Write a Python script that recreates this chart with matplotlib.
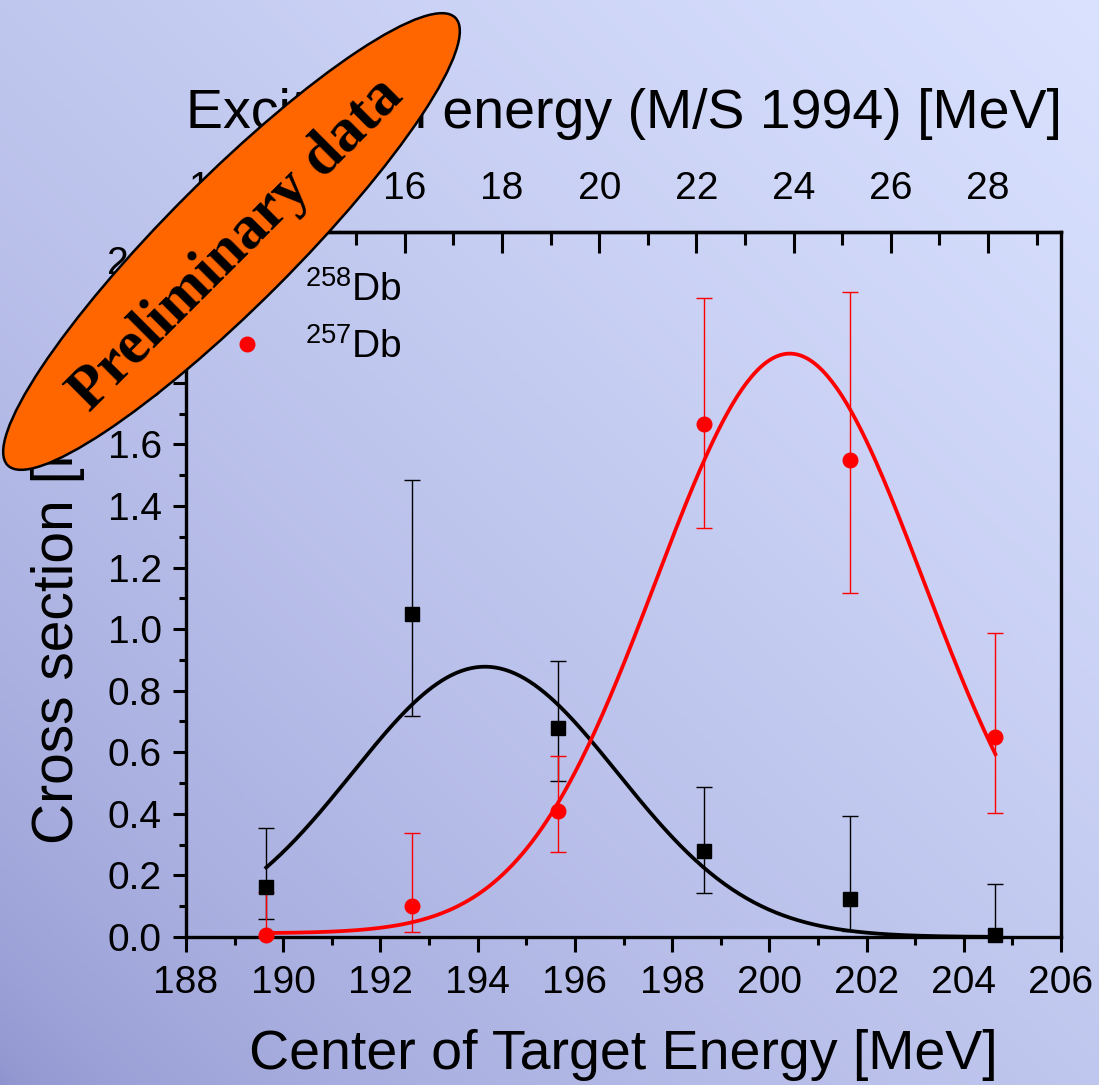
import numpy as np
import matplotlib
matplotlib.use("Agg")
import matplotlib.pyplot as plt
from matplotlib.patches import Ellipse
from matplotlib.lines import Line2D
from matplotlib.ticker import MultipleLocator, FormatStrFormatter

plt.rcParams['font.family'] = ['Liberation Sans', 'DejaVu Sans']
plt.rcParams['mathtext.fontset'] = 'custom'
plt.rcParams['mathtext.rm'] = 'Liberation Sans'
plt.rcParams['mathtext.default'] = 'regular'

# 258Db : energia, seccion eficaz y limites de error
e258 = [189.65, 192.65, 195.65, 198.65, 201.65, 204.65]
s258 = [0.163, 1.049, 0.680, 0.280, 0.122, 0.005]
s258_lo = [0.058, 0.717, 0.506, 0.142, 0.020, 0.0]
s258_hi = [0.353, 1.483, 0.898, 0.487, 0.394, 0.172]

# 257Db
e257 = [189.65, 192.65, 195.65, 198.65, 201.65, 204.65]
s257 = [0.006, 0.101, 0.409, 1.667, 1.548, 0.649]
s257_lo = [0.0, 0.015, 0.275, 1.328, 1.117, 0.404]
s257_hi = [0.147, 0.339, 0.588, 2.075, 2.095, 0.988]

# ajustes gaussianos (y0, A, xc, sigma)
fit258 = (0.0, 0.878, 194.15, 2.73)
fit257 = (0.012, 1.883, 200.42, 2.76)
fit_rango = (189.65, 204.65)

# energia de excitacion = energia - desplazamiento
offset_exc = 176.5
ticks_exc = [12, 14, 16, 18, 20, 22, 24, 26, 28]

W, H = 1099, 1085
fig = plt.figure(figsize=(W / 100, H / 100), dpi=100)

# fondo degradado
bg = fig.add_axes([0, 0, 1, 1], zorder=-10)
xx, yy = np.meshgrid(np.linspace(0, 1, 400), np.linspace(0, 1, 400))
t = ((xx + (1 - yy)) / 2) ** 0.6
dark = np.array([142, 147, 206]) / 255
light = np.array([218, 226, 255]) / 255
img = dark + (light - dark) * t[..., None]
bg.imshow(img, extent=[0, 1, 0, 1], origin='upper', aspect='auto')
bg.axis('off')

ax = fig.add_axes([186 / W, 1 - 937 / H, 875 / W, 705 / H])
ax.set_facecolor('none')


def gauss(p, x):
    y0, A, xc, s = p
    return y0 + A * np.exp(-(x - xc) ** 2 / (2 * s ** 2))


xf = np.linspace(fit_rango[0], fit_rango[1], 300)
ax.plot(xf, gauss(fit258, xf), color='black', lw=2.7, zorder=3)
ax.plot(xf, gauss(fit257, xf), color='red', lw=2.7, zorder=3)

err258 = [np.array(s258) - np.array(s258_lo), np.array(s258_hi) - np.array(s258)]
err257 = [np.array(s257) - np.array(s257_lo), np.array(s257_hi) - np.array(s257)]
ax.errorbar(e258, s258, yerr=err258, fmt='s', color='black', ms=10.5,
            elinewidth=1.0, capsize=5.5, capthick=1.0, zorder=4, clip_on=False)
ax.errorbar(e257, s257, yerr=err257, fmt='o', color='red', ms=10.5,
            elinewidth=1.0, capsize=5.5, capthick=1.0, zorder=4, clip_on=False)

ax.set_xlim(188, 206)
ax.set_ylim(0, 2.29)
ax.xaxis.set_major_locator(MultipleLocator(2))
ax.xaxis.set_minor_locator(MultipleLocator(1))
ax.yaxis.set_major_locator(MultipleLocator(0.2))
ax.yaxis.set_minor_locator(MultipleLocator(0.1))
ax.yaxis.set_major_formatter(FormatStrFormatter('%.1f'))

for sp in ax.spines.values():
    sp.set_linewidth(2.4)
ax.tick_params(axis='x', which='both', direction='out', top=False, bottom=True,
               labelsize=28, width=2.2, pad=9)
ax.tick_params(axis='x', which='major', length=11)
ax.tick_params(axis='x', which='minor', length=6)
ax.tick_params(axis='y', which='both', direction='out', right=False, left=True,
               labelsize=28, width=2.2, pad=8)
ax.tick_params(axis='y', which='major', length=9.5)
ax.tick_params(axis='y', which='minor', length=5)

ax.set_xlabel('Center of Target Energy [MeV]', fontsize=40, labelpad=20)
ax.set_ylabel('Cross section [nb]', fontsize=41, labelpad=16)
ax.yaxis.label.set_y(0.455)

sec = ax.secondary_xaxis('top', functions=(lambda x: x - offset_exc,
                                            lambda e: e + offset_exc))
sec.set_xticks(ticks_exc)
sec.xaxis.set_minor_locator(MultipleLocator(1))
sec.spines['top'].set_linewidth(2.4)
sec.tick_params(axis='x', which='both', direction='in', labelsize=28, width=2.2, pad=18)
sec.tick_params(axis='x', which='major', length=15)
sec.tick_params(axis='x', which='minor', length=9)
sec.set_xlabel('Excitation energy (M/S 1994) [MeV]', fontsize=40, labelpad=31)

handles = [Line2D([], [], marker='s', color='black', ls='none', ms=10.5),
           Line2D([], [], marker='o', color='red', ls='none', ms=10.5)]
ax.legend(handles, [r'$^{258}$Db', r'$^{257}$Db'], loc='upper left',
          bbox_to_anchor=(0.047, 0.945), frameon=False, fontsize=28,
          handlelength=1.0, handletextpad=1.0, labelspacing=0.5,
          borderpad=0, borderaxespad=0)

# sello "Preliminary data"
oval = Ellipse((2.315, 8.435), 6.33, 1.28, angle=45, transform=fig.dpi_scale_trans,
               facecolor='#ff6600', edgecolor='black', lw=1.8, zorder=10)
fig.add_artist(oval)
fig.text(2.37, 8.40, 'Preliminary data', transform=fig.dpi_scale_trans,
         rotation=45, rotation_mode='anchor', ha='center', va='center',
         fontfamily='Liberation Serif', fontweight='bold', fontsize=44,
         color='black', zorder=11)

fig.savefig('out.png', dpi=100)
